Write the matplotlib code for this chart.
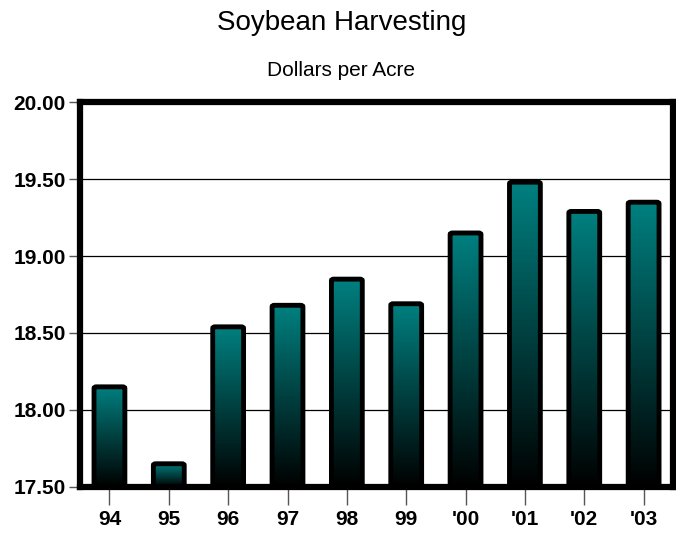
import numpy as np
import matplotlib.pyplot as plt
from matplotlib.patches import FancyBboxPatch
from matplotlib.colors import LinearSegmentedColormap

years = ["94", "95", "96", "97", "98", "99", "'00", "'01", "'02", "'03"]
cost = [18.15, 17.65, 18.54, 18.68, 18.85, 18.69, 19.15, 19.48, 19.29, 19.35]
yticks = [17.5, 18.0, 18.5, 19.0, 19.5, 20.0]

plt.rcParams['font.family'] = ['Liberation Sans', 'DejaVu Sans']

fig = plt.figure(figsize=(6.76, 5.35), dpi=100)
ax = fig.add_axes([0.118, 0.09, 0.878, 0.719])

cmap = LinearSegmentedColormap.from_list("teal", ["#000000", "#008080"])
grad = np.linspace(0, 1, 256).reshape(-1, 1)
base = 17.5
width = 0.52

ax.set_xlim(-0.5, len(years) - 0.5)
ax.set_ylim(base, 20.0)

for y in yticks[1:-1]:
    ax.axhline(y, color="black", lw=0.9, zorder=1)

for i, v in enumerate(cost):
    x0 = i - width / 2
    img = ax.imshow(grad, cmap=cmap, aspect="auto", origin="lower",
                    extent=(x0, x0 + width, base, v), zorder=2)
    box = FancyBboxPatch((x0, base), width, v - base,
                         boxstyle="round,pad=0,rounding_size=0.04",
                         mutation_aspect=0.25,
                         facecolor="none", edgecolor="black", lw=3.5, zorder=3)
    ax.add_patch(box)
    img.set_clip_path(box)

ax.set_xticks(range(len(years)))
ax.set_xticklabels(years)
ax.set_yticks(yticks)
ax.set_yticklabels([f"{t:.2f}" for t in yticks])

for s in ax.spines.values():
    s.set_linewidth(4.5)
    s.set_zorder(5)

ax.tick_params(axis="x", length=13, width=1, color="#555555", pad=4, labelsize=15)
ax.tick_params(axis="y", length=8, width=1, color="#555555", pad=2, labelsize=15)
for lab in ax.get_xticklabels() + ax.get_yticklabels():
    lab.set_fontweight("bold")

fig.text(0.505, 0.957, "Soybean Harvesting", ha="center", va="center", fontsize=20)
fig.text(0.505, 0.868, "Dollars per Acre", ha="center", va="center", fontsize=15)

fig.savefig("out.png", dpi=100)
